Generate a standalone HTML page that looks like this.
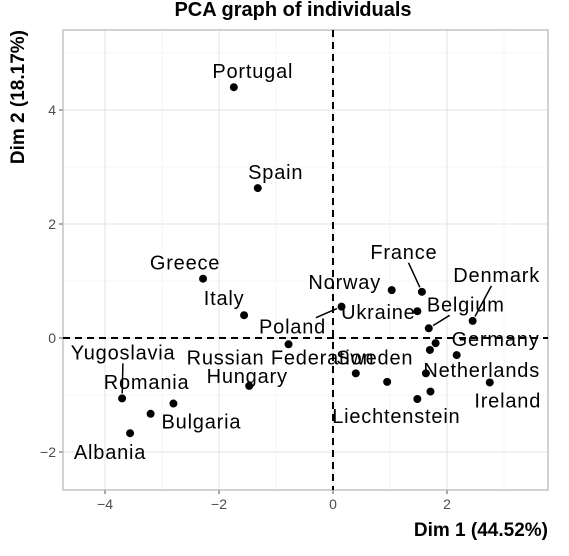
<!DOCTYPE html>
<html><head><meta charset="utf-8"><style>
body{margin:0;background:#fff;font-family:"Liberation Sans",sans-serif;}
svg text{font-family:"Liberation Sans",sans-serif;}
</style></head><body>
<svg id="chart" width="569" height="551"></svg>
<script>
const names=["Portugal","Spain","Greece","Italy","Poland","Russian Federation","Hungary","Yugoslavia","Romania","Bulgaria","Albania","Norway","France","Ukraine","Belgium","Denmark","Germany","Austria","Netherlands","Sweden","Finland","Switzerland","Ireland","Luxembourg","Liechtenstein"];
const dim1=[-1.74,-1.32,-2.28,-1.56,0.15,-0.78,-1.47,-3.70,-3.20,-2.80,-3.56,1.03,1.56,1.48,1.68,2.45,1.80,1.70,2.17,0.40,0.95,1.63,2.75,1.71,1.48];
const dim2=[4.40,2.63,1.04,0.40,0.55,-0.11,-0.84,-1.06,-1.33,-1.15,-1.67,0.84,0.81,0.47,0.17,0.30,-0.09,-0.21,-0.30,-0.62,-0.77,-0.62,-0.78,-0.94,-1.07];
const showLabel=[1,1,1,1,1,1,1,1,1,1,1,1,1,1,1,1,1,0,1,1,0,0,1,0,1];
const labelDx=[19,18,-18,-20,-49,-8,-2,1,-4,28,-20,-47,-18,-39,37,24,60,0,25,19,0,0,18,0,-21];
const labelDy=[-16,-16,-16,-17,20,13,-10,-46,-32,18,19,-8,-40,1,-24,-46,-4,0,15,-16,0,0,18,0,17];
const lineIdx=[12,15,14,4,7];
const xTicks=[-4,-2,0,2];
const yTicks=[-2,0,2,4];
const L=63,R=548,T=30,B=490;
const X=v=>333+v*57, Y=v=>338-v*57;
const svg=document.getElementById('chart');
const NS="http://www.w3.org/2000/svg";
function el(t,a,p){const e=document.createElementNS(NS,t);for(const k in a)e.setAttribute(k,a[k]);(p||svg).appendChild(e);return e;}
const bg=el('rect',{x:L,y:T,width:R-L,height:B-T,fill:'#fff'});


for(let v=-5;v<=3;v+=2){const x=X(v);if(x>L&&x<R){const g=el('line',{x1:x,x2:x,y1:T,y2:B,stroke:'#f0f0f0','stroke-width':0.6});}}
for(let v=-3;v<=5;v+=2){const y=Y(v);if(y>T&&y<B){const g=el('line',{x1:L,x2:R,y1:y,y2:y,stroke:'#f0f0f0','stroke-width':0.6});}}
xTicks.forEach(v=>{const g=el('line',{x1:X(v),x2:X(v),y1:T,y2:B,stroke:'#e3e3e3','stroke-width':1});
 const tk=el('line',{x1:X(v),x2:X(v),y1:B,y2:B+4,stroke:'#555'});
 const t=el('text',{x:X(v),y:B+19,'text-anchor':'middle','font-size':14,fill:'#4d4d4d'});t.textContent=(v<0?'\u2212'+(-v):v);});
yTicks.forEach(v=>{const g=el('line',{x1:L,x2:R,y1:Y(v),y2:Y(v),stroke:'#e3e3e3','stroke-width':1});
 const tk=el('line',{x1:L-4,x2:L,y1:Y(v),y2:Y(v),stroke:'#555'});
 const t=el('text',{x:L-7,y:Y(v)+5,'text-anchor':'end','font-size':14,fill:'#4d4d4d'});t.textContent=(v<0?'\u2212'+(-v):v);});
const bd=el('rect',{x:L,y:T,width:R-L,height:B-T,fill:'none',stroke:'#b3b3b3','stroke-width':1.2});

const h0=el('line',{x1:L,x2:R,y1:Y(0),y2:Y(0),stroke:'#000','stroke-width':2,'stroke-dasharray':'7,5'});

const v0=el('line',{x1:X(0),x2:X(0),y1:T,y2:B,stroke:'#000','stroke-width':2,'stroke-dasharray':'7,5'});

const segG=el('g',{});


const boxes={};
names.forEach((n,i)=>{const px=X(dim1[i]),py=Y(dim2[i]);
 const c=el('circle',{cx:px,cy:py,r:4,fill:'#000'});
 
 
 if(showLabel[i]){const t=el('text',{x:px+labelDx[i],y:py+labelDy[i]+7,'text-anchor':'middle','font-size':20,'letter-spacing':'0.8',fill:'#000'});t.textContent=n;
 
 
 boxes[i]=t.getBBox();}});
lineIdx.forEach(i=>{const px=X(dim1[i]),py=Y(dim2[i]);const b=boxes[i];
 const lx=b.x+b.width/2,ly=b.y+b.height/2;const dx=lx-px,dy=ly-py;
 const hw=b.width/2+1,hh=b.height/2-1;
 const tEdge=Math.min(Math.abs(dx)>0?hw/Math.abs(dx):1e9,Math.abs(dy)>0?hh/Math.abs(dy):1e9);
 const e=1-tEdge,d=Math.hypot(dx,dy),s=5/d;
 if(e>s){const ln=el('line',{x1:px+dx*s,y1:py+dy*s,x2:px+dx*e,y2:py+dy*e,stroke:'#000','stroke-width':1.5},segG);
 }});
const tt=el('text',{x:293,y:16,'text-anchor':'middle','font-size':20,'font-weight':'bold'});tt.textContent='PCA graph of individuals';

const xt=el('text',{x:548,y:536,'text-anchor':'end','font-size':19,'font-weight':'bold'});xt.textContent='Dim 1 (44.52%)';

const yt=el('text',{x:0,y:0,'text-anchor':'end','font-size':19,'font-weight':'bold',transform:'translate(24,30) rotate(-90)'});yt.textContent='Dim 2 (18.17%)';

</script>
</body></html>
